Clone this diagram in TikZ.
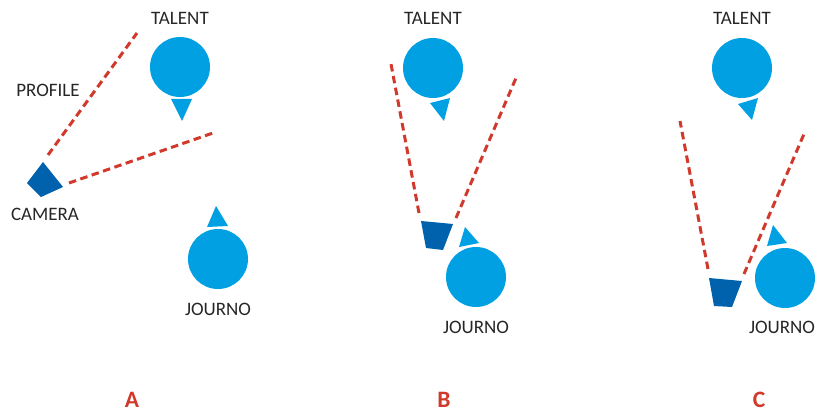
\documentclass[tikz,border=0pt]{standalone}
\usepackage{fontspec}
\setmainfont{Carlito}

\definecolor{personblue}{HTML}{00A0E3}
\definecolor{camblue}{HTML}{0062AC}
\definecolor{sightred}{HTML}{D0392B}

\begin{document}
\begin{tikzpicture}[x = 1pt, y = -1pt,
	person/.style = {circle, fill = personblue, minimum size = 60pt, inner sep = 0pt},
	facing/.style = {fill = personblue},
	camera/.style = {fill = camblue},
	sight/.style = {draw = sightred, line width = 3pt, dash pattern = on 7.5pt off 4.5pt},
	who/.style = {anchor = base, text = black!85, font = \fontsize{19}{22}\selectfont},
	panel/.style = {anchor = base, text = sightred, font = \fontsize{23.5}{26}\selectfont\bfseries}]

	\clip (0, 0) rectangle (815, 412);

	% Panel A : profile
	
		% People
		
		\node (talentA) [person] at (180, 67) {};
		\node (talentAname) [who] at (180, 25) {TALENT};
		\fill [facing] (171, 99) -- (192, 99) -- (182, 121) -- cycle;
		
		\node (journoA) [person] at (218, 259) {};
		\node (journoAname) [who] at (218, 315) {JOURNO};
		\fill [facing] (216, 206) -- (228, 226) -- (207, 227) -- cycle;
		
		% Camera and its field of view
		
		\fill [camera] (43, 162) -- (63, 187) -- (41, 197) -- (27, 183) -- cycle;
		\node (cameraAname) [who] at (45, 220) {CAMERA};
		\node (profileA) [who] at (48, 97) {PROFILE};
		
		\coordinate (viewA1) at (48, 155);
		\coordinate (viewA2) at (69, 183);
		\coordinate (farA1) at (137, 33);
		\coordinate (farA2) at (213, 133);
		\draw [sight] (viewA1) -- (farA1);
		\draw [sight] (viewA2) -- (farA2);
		
		\node (letterA) [panel] at (132, 407) {A};

	% Panel B : over the shoulder
	
		% People
		
		\node (talentB) [person] at (433, 68) {};
		\node (talentBname) [who] at (433, 25) {TALENT};
		\fill [facing] (430, 103) -- (450, 98) -- (444, 121) -- cycle;
		
		\node (journoB) [person] at (476, 277) {};
		\node (journoBname) [who] at (476, 333) {JOURNO};
		\fill [facing] (465, 227) -- (479, 243) -- (459, 247) -- cycle;
		
		% Camera and its field of view
		
		\fill [camera] (421, 221) -- (453, 224) -- (443, 250) -- (426, 248) -- cycle;
		
		\coordinate (viewB1) at (419, 213);
		\coordinate (viewB2) at (456, 218);
		\coordinate (farB1) at (391, 64);
		\coordinate (farB2) at (516, 78);
		\draw [sight] (viewB1) -- (farB1);
		\draw [sight] (viewB2) -- (farB2);
		
		\node (letterB) [panel] at (444, 407) {B};

	% Panel C : low angle
	
		% People
		
		\node (talentC) [person] at (742, 68) {};
		\node (talentCname) [who] at (742, 25) {TALENT};
		\fill [facing] (738, 104) -- (758, 98) -- (752, 120) -- cycle;
		
		\node (journoC) [person] at (785, 278) {};
		\node (journoCname) [who] at (782, 333) {JOURNO};
		\fill [facing] (773, 225) -- (787, 243) -- (767, 246) -- cycle;
		
		% Camera and its field of view
		
		\fill [camera] (709, 278) -- (742, 281) -- (732, 307) -- (714, 306) -- cycle;
		
		\coordinate (viewC1) at (708, 269);
		\coordinate (viewC2) at (744, 274);
		\coordinate (farC1) at (680, 121);
		\coordinate (farC2) at (804, 134);
		\draw [sight] (viewC1) -- (farC1);
		\draw [sight] (viewC2) -- (farC2);
		
		\node (letterC) [panel] at (759, 407) {C};

\end{tikzpicture}
\end{document}
